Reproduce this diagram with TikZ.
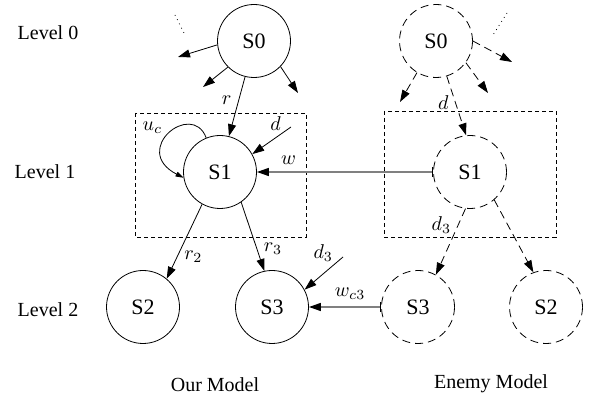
\documentclass[tikz,border=0pt]{standalone}
\usepackage{fontspec}
\setmainfont{Liberation Serif}
\usetikzlibrary{arrows.meta}

\begin{document}
\begin{tikzpicture}[
    x=0.5pt, y=-0.5pt,
    state/.style={circle, draw, minimum size=36.5pt, inner sep=0pt, font=\fontsize{11}{13}\selectfont},
    enemy/.style={state, dash pattern=on 4pt off 2.5pt},
    arrow/.style={-{Triangle[length=6pt,width=4pt]}},
    darrow/.style={arrow, dash pattern=on 4pt off 2.5pt},
    link/.style={draw=gray, line width=0.7pt, {Bar[width=5pt,black,line width=0.5pt]}-{Triangle[length=6pt,width=4pt,black]}},
    region/.style={draw, dash pattern=on 2pt off 1.5pt}
]
\useasboundingbox (0,0) rectangle (589,400);

% Levels
\node (L0) at (48,33) {Level 0};
\node (L1) at (45,172) {Level 1};
\node (L2) at (48,310) {Level 2};

% Level 1 regions
\draw[region] (135,113) rectangle (306,237);
\draw[region] (384,111) rectangle (556,237);

% Our model
\node[state] (S0L) at (254,41) {S0};
\node[state] (S1L) at (220,172) {S1};
\node[state] (S2L) at (143,307) {S2};
\node[state] (S3L) at (272,307) {S3};
\node (OM) at (215,385) {Our Model};

% Enemy model
\node[enemy] (S0R) at (436,41) {S0};
\node[enemy] (S1R) at (470,172) {S1};
\node[enemy] (S3R) at (418,307) {S3};
\node[enemy] (S2R) at (546,307) {S2};
\node (EM) at (491,384) {Enemy Model};

% Loose ends
\coordinate (a1) at (178,57);
\coordinate (a2) at (203,87);
\coordinate (a3) at (298,93);
\coordinate (p1) at (175,15);
\coordinate (p2) at (185,35);
\coordinate (dL) at (291,127);
\coordinate (d3L) at (343,257);
\coordinate (b1) at (400,102);
\coordinate (b2) at (488,93);
\coordinate (b3) at (512,62);
\coordinate (q1) at (507,13);
\coordinate (q2) at (493,35);

% Arrows of our model
\draw[dotted] (p1) -- (p2);
\draw[arrow] (S0L.186) -- (a1);
\draw[arrow] (S0L.225) -- (a2);
\draw[arrow] (S0L.316) -- (a3);
\draw[arrow] (S0L.256) -- node[left, pos=0.4] {$r$} (S1L.76);
\draw[-{Triangle[length=4pt,width=2.5pt]}] (S1L.112) .. controls (192,100) and (130,150) .. node[pos=0.4, left, inner sep=2pt, xshift=-5pt] {$u_c$} (S1L.189);
\draw[arrow] (dL) -- node[above left, pos=0.2, inner sep=1pt] {$d$} (S1L.29);
\draw[arrow] (S1L.241) -- node[right, pos=0.7] {$r_2$} (S2L.50);
\draw[arrow] (S1L.305) -- node[right, pos=0.68] {$r_3$} (S3L.102);
\draw[arrow] (d3L) -- node[above left, pos=0.2, inner sep=1pt] {$d_3$} (S3L.28);

% Arrows of the enemy model
\draw[dotted] (q1) -- (q2);
\draw[darrow] (S0R.239) -- (b1);
\draw[darrow] (S0R.324) -- (b2);
\draw[darrow] (S0R.0) -- (b3);
\draw[darrow] (S0R.287) -- node[left, pos=0.45] {$d$} (S1R.96);
\draw[darrow] (S1R.263) -- node[left, pos=0.25] {$d_3$} (S3R.61);
\draw[darrow] (S1R.311) -- (S2R.110);

% Links between the models
\draw[link] (S1R.west) -- node[above, pos=0.82] {$w$} (S1L.east);
\draw[link] (S3R.west) -- node[above, pos=0.43] {$w_{c3}$} (S3L.east);

\end{tikzpicture}
\end{document}
